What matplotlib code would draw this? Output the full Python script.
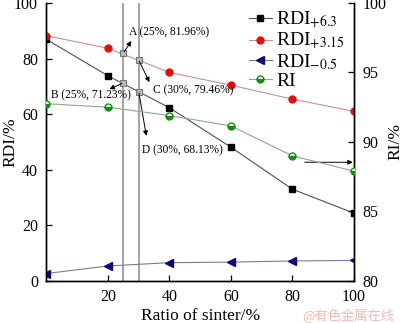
import numpy as np
import matplotlib
matplotlib.use('Agg')
import matplotlib.pyplot as plt

# 數據
ratio = [0, 20, 40, 60, 80, 100]
rdi_63 = [86.9, 73.8, 62.3, 48.1, 33.0, 24.4]
rdi_315 = [88.2, 83.7, 75.0, 70.4, 65.4, 61.0]
rdi_05 = [2.7, 5.4, 6.6, 6.8, 7.2, 7.4]
ri = [92.75, 92.5, 91.9, 91.15, 89.0, 87.9]

# 標註點 (燒結礦比例, RDI)
mark_x = [25, 30, 25, 30]
mark_y = [81.96, 79.46, 71.23, 68.13]
mark_txt = ['A (25%, 81.96%)', 'C (30%, 79.46%)', 'B (25%, 71.23%)', 'D (30%, 68.13%)']

plt.rcParams['font.family'] = ['Liberation Serif', 'DejaVu Serif']
plt.rcParams['mathtext.fontset'] = 'stix'

fig = plt.figure(figsize=(4, 3.23), dpi=100)
ax = fig.add_axes([0.116, 0.130, 0.769, 0.861])
ax2 = ax.twinx()

# 垂直參考線
for xv in [25, 30]:
    ax.axvline(xv, color='#8a8a8a', lw=1.1, zorder=1)

l1, = ax.plot(ratio, rdi_63, color='#505050', lw=0.8, marker='s', ms=4.5,
              mfc='black', mec='black', label=r'RDI$_{+6.3}$', zorder=3)
l2, = ax.plot(ratio, rdi_315, color='#c89090', lw=0.8, marker='o', ms=5,
              mfc='#e01010', mec='#e01010', label=r'RDI$_{+3.15}$', zorder=3)
l3, = ax.plot(ratio, rdi_05, color='#7a7a9a', lw=0.8, marker='<', ms=5.2,
              mfc='#0a0a70', mec='#0a0a70', label=r'RDI$_{-0.5}$', zorder=3)
l4, = ax2.plot(ratio, ri, color='#8aa88a', lw=0.8, marker='o', ms=5,
               fillstyle='bottom', mfc='#1a8a1a', mfcalt='white', mec='#1a8a1a',
               label='RI', zorder=3)

# 交點標記
ax.plot(mark_x, mark_y, ls='none', marker='s', ms=4, mfc='#bbbbbb',
        mec='#777777', mew=0.8, zorder=4)

# 標註文字與箭頭
txt_pos = [(27, 89.5), (34.6, 68.6), (1.5, 66.8), (31, 47.0)]
arrow_end = [(27.6, 86.3), (33.5, 71.5), (20.5, 69.0), (32.5, 52.2)]
for (px, py), s, (tx, ty), (ex, ey) in zip(zip(mark_x, mark_y), mark_txt, txt_pos, arrow_end):
    ax.text(tx, ty, s, fontsize=8.3, va='center', ha='left', zorder=5)
    ax.annotate('', xy=(ex, ey), xytext=(px, py),
                arrowprops=dict(arrowstyle='-|>', color='black', lw=0.7,
                                mutation_scale=7, shrinkA=1, shrinkB=0), zorder=5)

# RI 指向右軸的箭頭
ax.annotate('', xy=(99.6, 42.7), xytext=(84, 42.7),
            arrowprops=dict(arrowstyle='-|>', color='black', lw=0.7,
                            mutation_scale=7, shrinkA=0, shrinkB=0))

ax.set_xlim(0, 100)
ax.set_ylim(0, 100)
ax2.set_ylim(80, 100)
ax.set_xticks([20, 40, 60, 80, 100])
ax.set_yticks([0, 20, 40, 60, 80, 100])
ax2.set_yticks([80, 85, 90, 95, 100])

for a in (ax, ax2):
    a.spines['top'].set_visible(False)
    for sp in a.spines.values():
        sp.set_linewidth(1.0)
ax.tick_params(direction='in', length=4, width=0.9, labelsize=11.5, pad=6)
ax2.tick_params(direction='in', length=4, width=0.9, labelsize=11.5, pad=6)

ax.set_xlabel('Ratio of sinter/%', fontsize=12.5, labelpad=2)
ax.set_ylabel('RDI/%', fontsize=12.5, labelpad=-3)
ax2.set_ylabel('RI/%', fontsize=12.5, labelpad=1)

ax.legend(handles=[l1, l2, l3, l4], loc='upper right', frameon=False,
          fontsize=14, handlelength=1.2, handletextpad=0.2,
          labelspacing=0.0, borderaxespad=0.1, bbox_to_anchor=(1.0, 1.01))

fig.text(0.985, 0.0, '@有色金属在线', fontsize=9.5, color='#f5b8b8', ha='right',
         va='bottom', family=['Noto Sans CJK SC', 'DejaVu Sans'])

fig.savefig('out.png', dpi=100)
